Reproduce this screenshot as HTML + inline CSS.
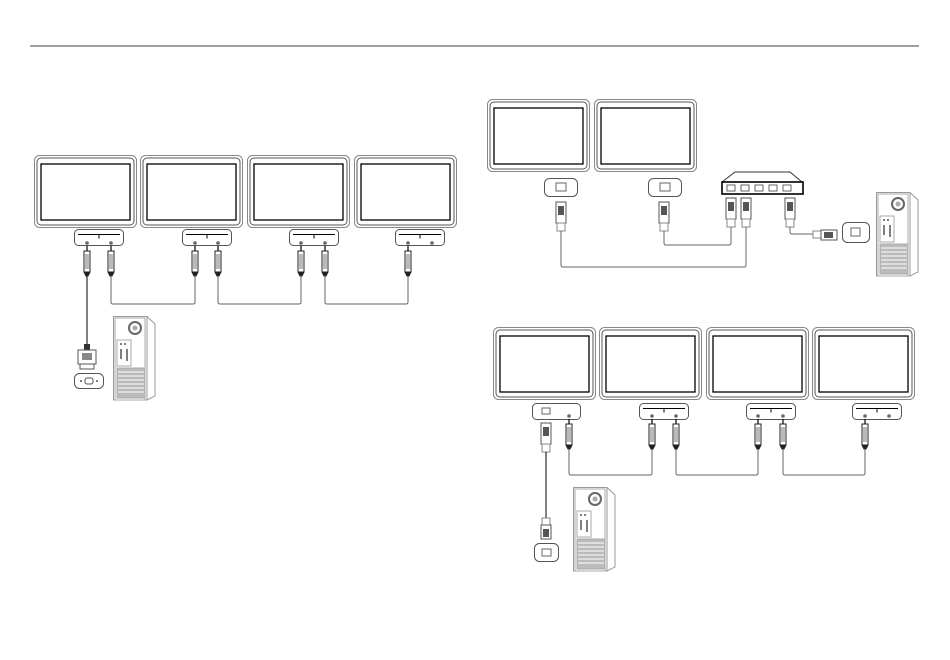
<!DOCTYPE html>
<html><head><meta charset="utf-8"><style>
html,body{margin:0;padding:0;background:#fff;width:950px;height:660px;overflow:hidden}
svg{display:block}
</style></head><body>
<svg width="950" height="660" viewBox="0 0 950 660" xmlns="http://www.w3.org/2000/svg" fill="none" stroke="#222" stroke-width="1">
<defs>
<g id="mon">
 <rect x="0.5" y="0.5" width="102" height="72" rx="5" stroke="#888"/>
 <rect x="3" y="3" width="97" height="67" rx="4" stroke="#555"/>
 <rect x="7" y="9" width="89" height="56" stroke="#000" stroke-width="1.3"/>
</g>
<g id="box">
 <rect x="0.5" y="0.5" width="49" height="16" rx="4" stroke="#555"/>
 <path d="M4 5.5H46M25 5.5V9.5" stroke="#000"/>
</g>
<g id="jack">
 <circle cx="0" cy="0" r="1.8" fill="#666" stroke="none"/>
 <path d="M0 3V8" stroke="#000" stroke-width="1.2"/>
 <rect x="-3" y="8" width="6" height="21" fill="#fff" stroke="#222"/>
 <path d="M-1 11V26M1 11V26" stroke="#555" stroke-width="0.8"/>
 <path d="M-3 29L-1 33H1L3 29" fill="#222"/>
</g>
<g id="rj">
 <rect x="-5" y="0" width="10" height="21" fill="#fff" stroke="#555"/>
 <rect x="-3" y="4" width="6" height="9" fill="#555" stroke="none"/>
 <rect x="-4" y="21" width="8" height="8" fill="#fff" stroke="#888"/>
</g>
<g id="rjport">
 <rect x="0.5" y="0.5" width="33" height="18" rx="5" stroke="#555"/>
 <rect x="12" y="5" width="10" height="8" stroke="#666"/>
</g>
<g id="pc">
 <path d="M0.5 0.5H34L42 8V80L34 84H0.5Z" stroke="#999"/>
 <path d="M34 0.5V84" stroke="#999"/>
 <rect x="2" y="2" width="30" height="82" stroke="#aaa"/>
 <circle cx="22" cy="12" r="6" fill="#fff" stroke="#666" stroke-width="2"/>
 <circle cx="22" cy="12" r="2.5" fill="#aaa" stroke="none"/>
 <rect x="4" y="24" width="14" height="26" stroke="#aaa"/>
 <path d="M7 28h2M11 28h2M8 33v10M14 33v12" stroke="#555" stroke-width="1.5"/>
 <rect x="4" y="52" width="28" height="30" fill="#bbb" stroke="#aaa"/>
 <path d="M5 56H31M5 60H31M5 64H31M5 68H31M5 72H31M5 76H31" stroke="#fff"/>
</g>
</defs>

<line x1="30" y1="46" x2="919" y2="46" stroke="#666" stroke-width="1.2"/>

<!-- LEFT GROUP -->
<use href="#mon" x="34" y="155"/>
<use href="#mon" x="140" y="155"/>
<use href="#mon" x="247" y="155"/>
<use href="#mon" x="354" y="155"/>
<use href="#box" x="74" y="229"/>
<use href="#box" x="182" y="229"/>
<use href="#box" x="289" y="229"/>
<use href="#box" x="395" y="229"/>
<use href="#jack" x="87" y="243"/><use href="#jack" x="111" y="243"/>
<use href="#jack" x="195" y="243"/><use href="#jack" x="218" y="243"/>
<use href="#jack" x="301" y="243"/><use href="#jack" x="325" y="243"/>
<use href="#jack" x="408" y="243"/>
<circle cx="432" cy="243" r="1.8" fill="#666" stroke="none"/>
<path d="M111 276V302Q111 304 113 304H193Q195 304 195 302V276" stroke="#666"/>
<path d="M218 276V302Q218 304 220 304H299Q301 304 301 302V276" stroke="#666"/>
<path d="M325 276V302Q325 304 327 304H406Q408 304 408 302V276" stroke="#666"/>
<path d="M87 276V344" stroke="#000"/>
<!-- DVI connector -->
<rect x="84" y="344" width="6" height="6" fill="#333" stroke="none"/>
<rect x="78" y="350" width="18" height="14" fill="#fff" stroke="#555"/>
<rect x="82" y="353" width="10" height="7" fill="#888" stroke="none"/>
<rect x="80" y="364" width="14" height="5" fill="#fff" stroke="#555"/>
<rect x="74.5" y="373.5" width="29" height="15" rx="5" stroke="#555"/>
<rect x="85" y="378" width="8" height="6" rx="2" stroke="#555"/>
<circle cx="81" cy="381" r="1" fill="#555" stroke="none"/><circle cx="97" cy="381" r="1" fill="#555" stroke="none"/>
<use href="#pc" x="113" y="316"/>

<!-- TOP RIGHT -->
<use href="#mon" x="487" y="99"/>
<use href="#mon" x="594" y="99"/>
<use href="#rjport" x="544" y="178"/>
<use href="#rjport" x="648" y="178"/>
<!-- switch -->
<path d="M722 182L735 172H790L802 182" stroke="#333"/>
<rect x="722" y="182" width="81" height="12" stroke="#000" stroke-width="1.6"/>
<g stroke="#666"><rect x="727" y="185" width="8" height="6"/><rect x="741" y="185" width="8" height="6"/><rect x="755" y="185" width="8" height="6"/><rect x="769" y="185" width="8" height="6"/><rect x="783" y="185" width="8" height="6"/></g>
<use href="#rj" x="561" y="202"/>
<use href="#rj" x="664" y="202"/>
<use href="#rj" x="731" y="198"/>
<use href="#rj" x="746" y="198"/>
<use href="#rj" x="790" y="198"/>
<path d="M561 231V265Q561 267 563 267H744Q746 267 746 265V227" stroke="#666"/>
<path d="M664 231V243Q664 245 666 245H729Q731 245 731 243V227" stroke="#666"/>
<path d="M790 227V232Q790 234 792 234H813" stroke="#666"/>
<rect x="813" y="231" width="8" height="7" fill="#fff" stroke="#888"/>
<rect x="821" y="230" width="16" height="10" fill="#fff" stroke="#555"/>
<rect x="824" y="232" width="9" height="6" fill="#555" stroke="none"/>
<rect x="842.5" y="222.5" width="27" height="20" rx="5" stroke="#555"/>
<rect x="851" y="228" width="9" height="8" stroke="#666"/>
<use href="#pc" x="876" y="192"/>

<!-- BOTTOM RIGHT -->
<use href="#mon" x="493" y="327"/>
<use href="#mon" x="599" y="327"/>
<use href="#mon" x="706" y="327"/>
<use href="#mon" x="812" y="327"/>
<rect x="532.5" y="403.5" width="48" height="16" rx="4" stroke="#555"/>
<rect x="542" y="408" width="8" height="6" stroke="#666"/>
<use href="#box" x="639" y="403"/>
<use href="#box" x="746" y="403"/>
<use href="#box" x="852" y="403"/>
<use href="#jack" x="569" y="416"/>
<use href="#jack" x="652" y="416"/>
<use href="#jack" x="676" y="416"/>
<use href="#jack" x="758" y="416"/>
<use href="#jack" x="783" y="416"/>
<use href="#jack" x="865" y="416"/>
<circle cx="889" cy="416" r="1.8" fill="#666" stroke="none"/>
<path d="M569 449V473Q569 475 571 475H650Q652 475 652 473V449" stroke="#666"/>
<path d="M676 449V473Q676 475 678 475H756Q758 475 758 473V449" stroke="#666"/>
<path d="M783 449V473Q783 475 785 475H863Q865 475 865 473V449" stroke="#666"/>
<use href="#rj" x="546" y="423"/>
<path d="M546 452V518" stroke="#000"/>
<rect x="542" y="518" width="8" height="7" fill="#fff" stroke="#888"/>
<rect x="541" y="525" width="10" height="14" fill="#fff" stroke="#555"/>
<rect x="543" y="529" width="6" height="8" fill="#555" stroke="none"/>
<rect x="534.5" y="543.5" width="24" height="18" rx="5" stroke="#555"/>
<rect x="542" y="549" width="9" height="7" stroke="#666"/>
<use href="#pc" x="573" y="487"/>
</svg>
</body></html>
